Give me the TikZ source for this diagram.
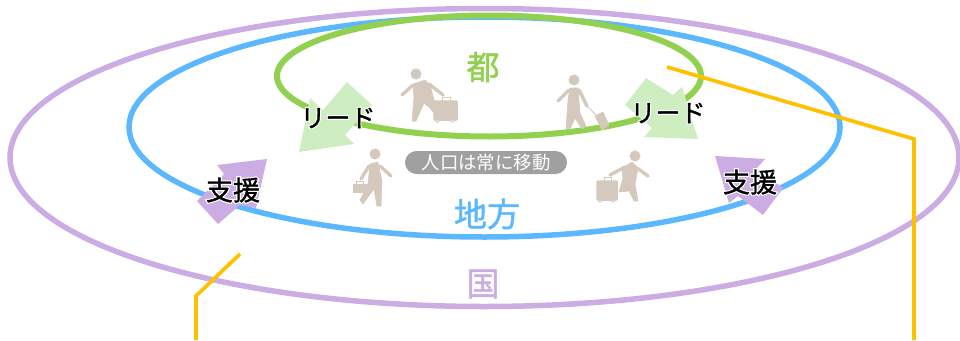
\documentclass[tikz,border=0pt]{standalone}
\usepackage{fontspec}
\setmainfont{Noto Sans CJK JP}
\usetikzlibrary{shapes.geometric}
\definecolor{kuni}{HTML}{CBACE3}
\definecolor{chiho}{HTML}{5BB8FF}
\definecolor{miyako}{HTML}{92D050}
\definecolor{leadfill}{HTML}{CEEEC2}
\definecolor{line}{HTML}{FFC000}
\definecolor{walker}{HTML}{D5C9BD}
\definecolor{pill}{HTML}{A0A0A0}
\newcommand{\halo}[1]{\rlap{\color{white}\addfontfeature{FakeBold=10}#1}{\addfontfeature{FakeBold=1.2}#1}}
\begin{document}
\begin{tikzpicture}[x=1pt,y=-1pt]
        \tikzset{ring/.style = {shape=ellipse,draw,inner sep=0pt,fill=none}}
        \tikzset{edge/.style = {line,line width=3.7pt,miter limit=4}}
        \tikzset{flow/.style = {draw=none}}
        \tikzset{limb/.style = {draw=walker,line width=3.4pt,line cap=round,line join=round}}
        \tikzset{body/.style = {fill=walker,draw=walker,line width=0.6pt,line join=round}}
        \tikzset{wheel/.style = {fill=white,draw=walker,line width=0.8pt}}
        \tikzset{tag/.style = {inner sep=0pt,font=\fontsize{25}{25}\selectfont,text=black}}
        \tikzset{helptag/.style = {inner sep=0pt,font=\fontsize{27}{27}\selectfont,text=black}}
        \tikzset{place/.style = {inner sep=0pt,font=\fontsize{33}{33}\selectfont\addfontfeature{FakeBold=1.5}}}

        \useasboundingbox (0, 0) rectangle (960, 340);

        \node[ring,draw=kuni,line width=5.5pt,minimum width=949pt,minimum height=298pt] (Kuni) at (484.5, 157.5) {};
        \node[ring,draw=chiho,line width=5.5pt,minimum width=711pt,minimum height=220pt] (Chiho) at (484.5, 127) {};
        \node[ring,draw=miyako,line width=6pt,minimum width=424pt,minimum height=121pt] (Miyako) at (489, 76) {};

        % arrows
        \fill[flow,leadfill] (299, 152) -- (310, 98) -- (323, 110) -- (347, 82) -- (372, 105) -- (345, 135) -- (354, 144) -- cycle;
        \fill[flow,leadfill] (698, 139) -- (682, 87) -- (673, 95) -- (646, 78) -- (625, 105) -- (652, 128) -- (644, 137) -- cycle;
        \fill[flow,kuni] (267, 159) -- (217, 165) -- (224, 174) -- (197, 201) -- (218, 224) -- (240, 205) -- (256, 208) -- cycle;
        \fill[flow,kuni] (715, 156) -- (765, 159) -- (757, 168) -- (783, 188) -- (763, 215) -- (738, 196) -- (729, 203) -- cycle;

        % walker with case, top left
        \fill[walker] (416, 74) circle (5.5);
        \fill[body] (413, 84) -- (425, 80) -- (430, 85) -- (435, 103) -- (436, 116) -- (430, 108) -- (424, 103) -- (416, 121) -- (412, 121) -- (414, 97) -- cycle;
        \draw[limb] (413, 85) -- (402, 95);
        \draw[limb] (429, 84) -- (443, 95);
        \draw[walker,line width=1.5pt,fill=walker,rounded corners=1pt] (434, 101) rectangle (457, 120);
        \draw[walker,line width=1pt] (442, 101) -- (442, 97) -- (450, 97) -- (450, 101);
        \draw[wheel] (437.5, 121) circle (1.6);
        \draw[wheel] (452.5, 121) circle (1.6);

        % walker with case, top right
        \fill[walker] (574, 80) circle (5.5);
        \fill[body] (570, 88) -- (578, 88) -- (580, 113) -- (586, 126) -- (582, 129) -- (575, 118) -- (570, 129) -- (566, 129) -- (568, 100) -- cycle;
        \draw[limb] (569, 90) -- (558, 101);
        \draw[limb] (579, 90) -- (587, 106);
        \draw[walker,line width=1pt] (587, 106) -- (597, 116);
        \fill[body] (595, 116) -- (603, 112) -- (609, 125) -- (602, 130) -- cycle;

        % walker with case, middle left
        \fill[walker] (375, 154) circle (5.5);
        \fill[body] (370, 164) -- (378, 162) -- (382, 182) -- (381, 206) -- (377, 206) -- (374, 189) -- (363, 204) -- (360, 200) -- (368, 184) -- cycle;
        \draw[limb] (369, 166) -- (361, 179);
        \draw[limb] (380, 166) -- (391, 176);
        \fill[body] (353, 184) rectangle (367, 192);
        \draw[walker,line width=1pt] (356, 184) -- (356, 181) -- (363, 181) -- (363, 184);

        % walker with case, middle right
        \fill[walker] (635, 156) circle (5.5);
        \fill[body] (622, 168) -- (632, 162) -- (638, 168) -- (635, 184) -- (638, 201) -- (634, 201) -- (629, 191) -- (619, 192) -- (623, 178) -- cycle;
        \draw[limb] (625, 167) -- (610, 175);
        \draw[limb] (637, 168) -- (648, 176);
        \draw[walker,line width=1.5pt,fill=walker,rounded corners=1pt] (597, 181) rectangle (617, 200);
        \draw[walker,line width=1pt] (604, 181) -- (604, 177) -- (611, 177) -- (611, 181);
        \draw[wheel] (600, 201) circle (1.4);
        \draw[wheel] (613, 201) circle (1.4);

        % yellow leaders
        \coordinate (A1) at (667, 67);
        \coordinate (A2) at (914, 139);
        \coordinate (A3) at (914, 340);
        \coordinate (B1) at (240, 254);
        \coordinate (B2) at (196, 296);
        \coordinate (B3) at (196, 340);
        \draw[edge] (A1) -- (A2) -- (A3);
        \draw[edge] (B1) -- (B2) -- (B3);

        \node[place,text=miyako] (MiyakoName) at (483, 67) {都};
        \node[place,text=chiho] (ChihoName) at (487, 214) {地方};
        \node[place,text=kuni] (KuniName) at (483, 284) {国};

        \node[tag] (LeadL) at (338, 118) {\halo{リード}};
        \node[tag] (LeadR) at (668, 113) {\halo{リード}};
        \node[helptag] (HelpL) at (233, 190) {\halo{支援}};
        \node[helptag] (HelpR) at (750, 182) {\halo{支援}};

        \node[fill=pill,rounded corners=11.5pt,minimum width=162pt,minimum height=23pt,inner sep=0pt] (Pill) at (486, 162.5) {};
        \node[inner sep=0pt,text=white,font=\fontsize{18.4}{18.4}\selectfont] (PillText) at (486, 163) {人口は常に移動};
    \end{tikzpicture}
\end{document}
